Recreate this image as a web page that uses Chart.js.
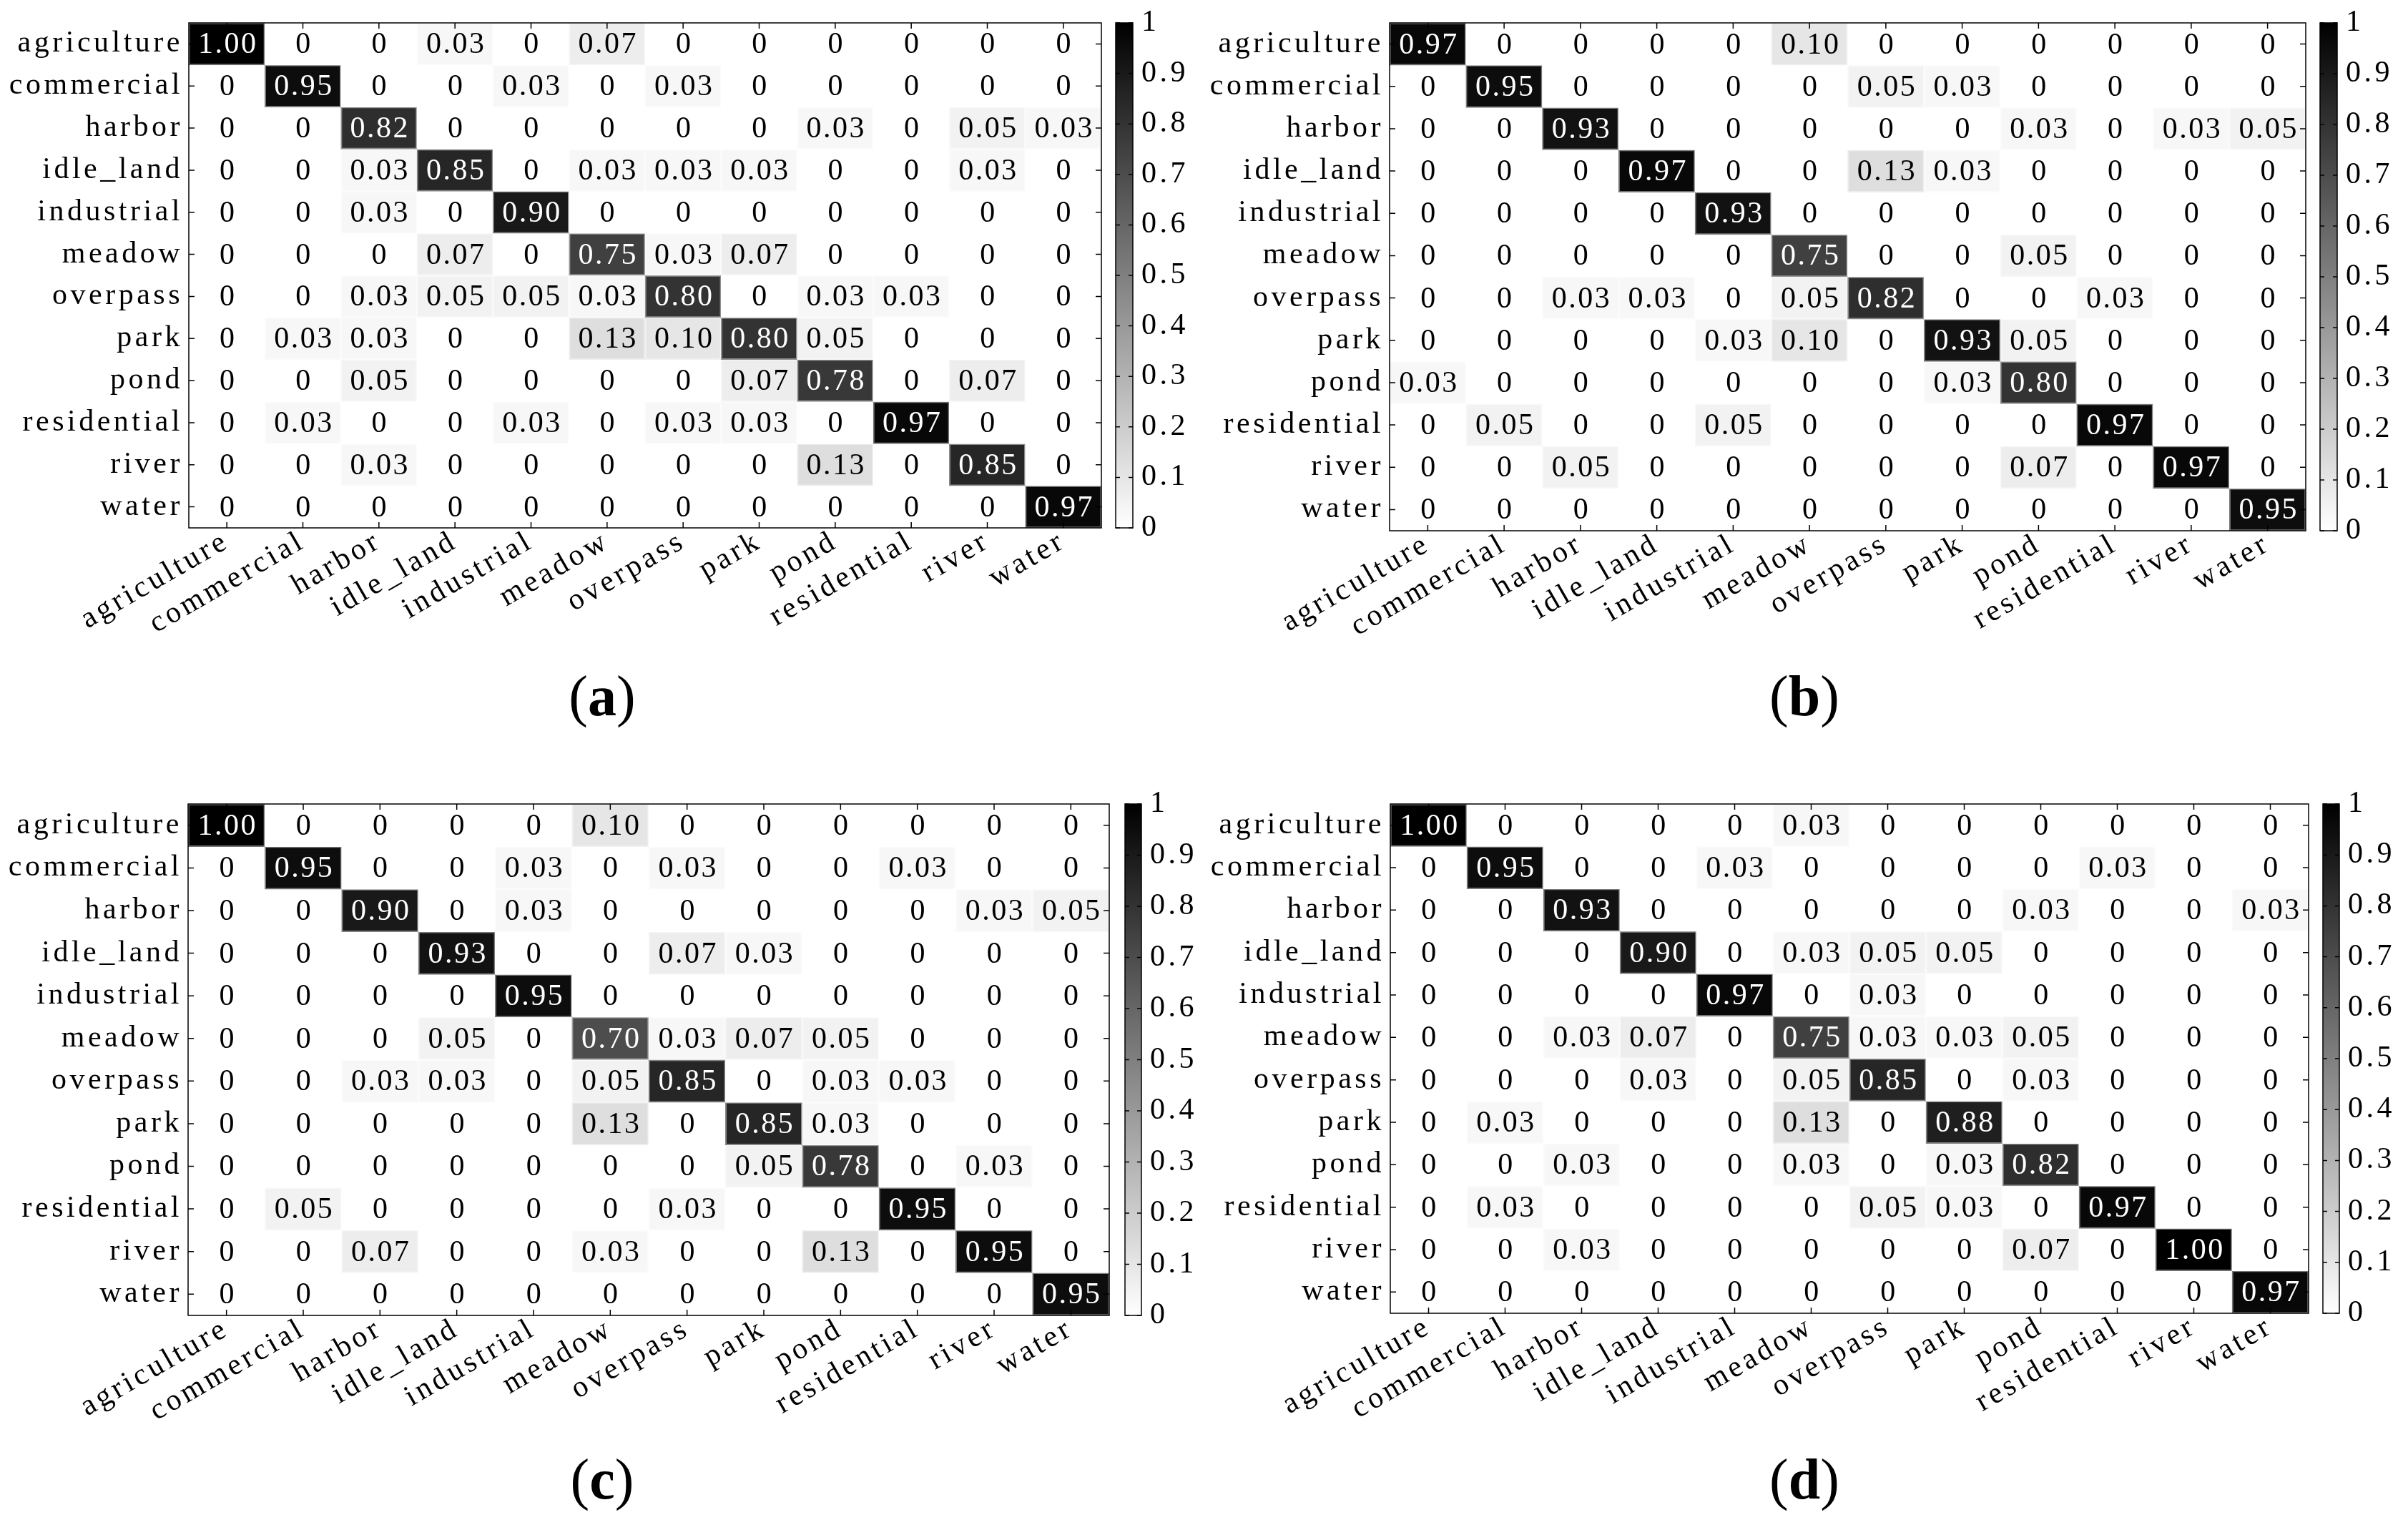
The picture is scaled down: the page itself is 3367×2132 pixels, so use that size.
<!DOCTYPE html>
<html>
<head>
<meta charset="utf-8">
<script src="https://cdn.jsdelivr.net/npm/chart.js@4.4.0/dist/chart.umd.min.js"></script>
<style>
body { margin: 0; background: #fff; width: 3367px; height: 2132px; position: relative; overflow: hidden; }
canvas { position: absolute; }
.cap { position: absolute; font-family: 'Liberation Serif', serif; font-size: 80px; line-height: 1; transform: translate(-50%, -50%); }
</style>
</head>
<body>
<canvas id="ma" width="1600" height="1000" style="left:0px;top:0px"></canvas>
<canvas id="mb" width="1600" height="1000" style="left:1680px;top:0px"></canvas>
<canvas id="mc" width="1600" height="1000" style="left:0px;top:1090px"></canvas>
<canvas id="md" width="1600" height="1000" style="left:1680px;top:1090px"></canvas>
<canvas id="ca" width="140" height="1000" style="left:1550px;top:0px"></canvas>
<canvas id="cb" width="140" height="1000" style="left:3234px;top:0px"></canvas>
<canvas id="cc" width="140" height="1000" style="left:1563px;top:1090px"></canvas>
<canvas id="cd" width="140" height="1000" style="left:3238px;top:1090px"></canvas>
<div class="cap" style="left:842px;top:973px">(<b>a</b>)</div>
<div class="cap" style="left:2523px;top:973px">(<b>b</b>)</div>
<div class="cap" style="left:842px;top:2068px">(<b>c</b>)</div>
<div class="cap" style="left:2523px;top:2068px">(<b>d</b>)</div>
<script>
// class names (rows = true, columns = predicted)
const classNames = ['agriculture', 'commercial', 'harbor', 'idle_land', 'industrial', 'meadow',
    'overpass', 'park', 'pond', 'residential', 'river', 'water'];
const rowIdx = [0, 1, 2, 3, 4, 5, 6, 7, 8, 9, 10, 11];

const cmA = [
    [1.00, 0, 0, 0.03, 0, 0.07, 0, 0, 0, 0, 0, 0],
    [0, 0.95, 0, 0, 0.03, 0, 0.03, 0, 0, 0, 0, 0],
    [0, 0, 0.82, 0, 0, 0, 0, 0, 0.03, 0, 0.05, 0.03],
    [0, 0, 0.03, 0.85, 0, 0.03, 0.03, 0.03, 0, 0, 0.03, 0],
    [0, 0, 0.03, 0, 0.90, 0, 0, 0, 0, 0, 0, 0],
    [0, 0, 0, 0.07, 0, 0.75, 0.03, 0.07, 0, 0, 0, 0],
    [0, 0, 0.03, 0.05, 0.05, 0.03, 0.80, 0, 0.03, 0.03, 0, 0],
    [0, 0.03, 0.03, 0, 0, 0.13, 0.10, 0.80, 0.05, 0, 0, 0],
    [0, 0, 0.05, 0, 0, 0, 0, 0.07, 0.78, 0, 0.07, 0],
    [0, 0.03, 0, 0, 0.03, 0, 0.03, 0.03, 0, 0.97, 0, 0],
    [0, 0, 0.03, 0, 0, 0, 0, 0, 0.13, 0, 0.85, 0],
    [0, 0, 0, 0, 0, 0, 0, 0, 0, 0, 0, 0.97]
];
const cmB = [
    [0.97, 0, 0, 0, 0, 0.10, 0, 0, 0, 0, 0, 0],
    [0, 0.95, 0, 0, 0, 0, 0.05, 0.03, 0, 0, 0, 0],
    [0, 0, 0.93, 0, 0, 0, 0, 0, 0.03, 0, 0.03, 0.05],
    [0, 0, 0, 0.97, 0, 0, 0.13, 0.03, 0, 0, 0, 0],
    [0, 0, 0, 0, 0.93, 0, 0, 0, 0, 0, 0, 0],
    [0, 0, 0, 0, 0, 0.75, 0, 0, 0.05, 0, 0, 0],
    [0, 0, 0.03, 0.03, 0, 0.05, 0.82, 0, 0, 0.03, 0, 0],
    [0, 0, 0, 0, 0.03, 0.10, 0, 0.93, 0.05, 0, 0, 0],
    [0.03, 0, 0, 0, 0, 0, 0, 0.03, 0.80, 0, 0, 0],
    [0, 0.05, 0, 0, 0.05, 0, 0, 0, 0, 0.97, 0, 0],
    [0, 0, 0.05, 0, 0, 0, 0, 0, 0.07, 0, 0.97, 0],
    [0, 0, 0, 0, 0, 0, 0, 0, 0, 0, 0, 0.95]
];
const cmC = [
    [1.00, 0, 0, 0, 0, 0.10, 0, 0, 0, 0, 0, 0],
    [0, 0.95, 0, 0, 0.03, 0, 0.03, 0, 0, 0.03, 0, 0],
    [0, 0, 0.90, 0, 0.03, 0, 0, 0, 0, 0, 0.03, 0.05],
    [0, 0, 0, 0.93, 0, 0, 0.07, 0.03, 0, 0, 0, 0],
    [0, 0, 0, 0, 0.95, 0, 0, 0, 0, 0, 0, 0],
    [0, 0, 0, 0.05, 0, 0.70, 0.03, 0.07, 0.05, 0, 0, 0],
    [0, 0, 0.03, 0.03, 0, 0.05, 0.85, 0, 0.03, 0.03, 0, 0],
    [0, 0, 0, 0, 0, 0.13, 0, 0.85, 0.03, 0, 0, 0],
    [0, 0, 0, 0, 0, 0, 0, 0.05, 0.78, 0, 0.03, 0],
    [0, 0.05, 0, 0, 0, 0, 0.03, 0, 0, 0.95, 0, 0],
    [0, 0, 0.07, 0, 0, 0.03, 0, 0, 0.13, 0, 0.95, 0],
    [0, 0, 0, 0, 0, 0, 0, 0, 0, 0, 0, 0.95]
];
const cmD = [
    [1.00, 0, 0, 0, 0, 0.03, 0, 0, 0, 0, 0, 0],
    [0, 0.95, 0, 0, 0.03, 0, 0, 0, 0, 0.03, 0, 0],
    [0, 0, 0.93, 0, 0, 0, 0, 0, 0.03, 0, 0, 0.03],
    [0, 0, 0, 0.90, 0, 0.03, 0.05, 0.05, 0, 0, 0, 0],
    [0, 0, 0, 0, 0.97, 0, 0.03, 0, 0, 0, 0, 0],
    [0, 0, 0.03, 0.07, 0, 0.75, 0.03, 0.03, 0.05, 0, 0, 0],
    [0, 0, 0, 0.03, 0, 0.05, 0.85, 0, 0.03, 0, 0, 0],
    [0, 0.03, 0, 0, 0, 0.13, 0, 0.88, 0, 0, 0, 0],
    [0, 0, 0.03, 0, 0, 0.03, 0, 0.03, 0.82, 0, 0, 0],
    [0, 0.03, 0, 0, 0, 0, 0.05, 0.03, 0, 0.97, 0, 0],
    [0, 0, 0.03, 0, 0, 0, 0, 0, 0.07, 0, 1.00, 0],
    [0, 0, 0, 0, 0, 0, 0, 0, 0, 0, 0, 0.97]
];

// colorbar
const cbRange = [0, 1];
const cbTicks = [0, 0.1, 0.2, 0.3, 0.4, 0.5, 0.6, 0.7, 0.8, 0.9, 1];

Chart.defaults.font.family = "'Liberation Serif', serif";
Chart.defaults.font.size = 42;
Chart.defaults.color = '#000';
Chart.defaults.animation = false;
Chart.defaults.plugins.legend.display = false;
Chart.defaults.plugins.tooltip.enabled = false;

function gray(v) {
    let g = Math.round(255 * (1 - v));
    return 'rgb(' + g + ',' + g + ',' + g + ')';
}
function edgeGray(v) {
    let g = Math.round(255 * (1 - v * 0.55));
    return 'rgb(' + g + ',' + g + ',' + g + ')';
}

// wider glyph spacing, like the original half-width font
const spacing = {
    id: 'spacing',
    beforeDraw(chart) { chart.ctx.letterSpacing = '4.5px'; }
};

// box + inward ticks (matlab style)
const frame = {
    id: 'frame',
    afterDatasetsDraw(chart, args, opts) {
        const ctx = chart.ctx, a = chart.chartArea;
        const t = opts.len;
        ctx.save();
        ctx.strokeStyle = '#000';
        ctx.lineWidth = 1.5;
        ctx.strokeRect(a.left, a.top, a.width, a.height);
        ctx.beginPath();
        if (opts.xTicks) {
            const xs = chart.scales.x;
            xs.ticks.forEach((tk, i) => {
                let x = xs.getPixelForTick(i);
                ctx.moveTo(x, a.top); ctx.lineTo(x, a.top + t);
                ctx.moveTo(x, a.bottom); ctx.lineTo(x, a.bottom - t);
            });
        }
        const ys = chart.scales.y;
        ys.ticks.forEach((tk, i) => {
            let y = ys.getPixelForTick(i);
            ctx.moveTo(a.left, y); ctx.lineTo(a.left + t, y);
            ctx.moveTo(a.right, y); ctx.lineTo(a.right - t, y);
        });
        ctx.stroke();
        ctx.restore();
    }
};

// numbers inside the cells
const cellText = {
    id: 'cellText',
    afterDatasetsDraw(chart) {
        const ctx = chart.ctx;
        ctx.save();
        ctx.letterSpacing = '2.5px';
        ctx.font = "42px 'Liberation Serif', serif";
        ctx.textAlign = 'center';
        ctx.textBaseline = 'middle';
        chart.data.datasets.forEach((ds, i) => {
            chart.getDatasetMeta(i).data.forEach((bar, j) => {
                let v = ds.values[j];
                ctx.fillStyle = v > 0.5 ? '#fff' : '#000';
                ctx.fillText(v === 0 ? '0' : v.toFixed(2), bar.x + 1.5, (bar.y + bar.base) / 2 + 2);
            });
        });
        ctx.restore();
    }
};

function matrixChart(id, cm, g) {
    // g: canvas origin (x, y, w, h) and plot box (left, top, right, bottom), page coords
    let datasets = cm.map((row, r) => ({
        data: row.map(() => [r - 0.5, r + 0.5]),
        values: row,
        backgroundColor: row.map(gray),
        borderColor: row.map(edgeGray),
        borderWidth: row.map(v => v > 0 ? 2 : 0),
        borderSkipped: false,
        barPercentage: 1,
        categoryPercentage: 1,
        grouped: false
    }));
    return new Chart(document.getElementById(id), {
        type: 'bar',
        data: { labels: classNames, datasets: datasets },
        options: {
            responsive: false,
            layout: { padding: { left: 0, top: g.top - g.y, right: g.x + g.w - g.right, bottom: 0 } },
            scales: {
                x: {
                    type: 'category',
                    offset: true,
                    grid: { display: false },
                    border: { display: false },
                    ticks: { minRotation: 30, maxRotation: 30, autoSkip: false, padding: -14 },
                    afterFit: s => { s.height = g.y + g.h - g.bottom; }
                },
                y: {
                    type: 'linear',
                    min: -0.5,
                    max: 11.5,
                    reverse: true,
                    grid: { display: false },
                    border: { display: false },
                    afterBuildTicks: s => { s.ticks = rowIdx.map(v => ({ value: v })); },
                    ticks: { callback: v => classNames[v], padding: 0 },
                    afterFit: s => { s.width = g.left - g.x; }
                }
            },
            plugins: { frame: { len: 8, xTicks: true } }
        },
        plugins: [spacing, frame, cellText]
    });
}

function colorbarChart(id, g) {
    return new Chart(document.getElementById(id), {
        type: 'bar',
        data: {
            labels: [''],
            datasets: [{
                data: [cbRange],
                backgroundColor: ctx => {
                    const a = ctx.chart.chartArea;
                    if (!a) return '#888';
                    const grad = ctx.chart.ctx.createLinearGradient(0, a.bottom, 0, a.top);
                    grad.addColorStop(0, gray(cbRange[0]));
                    grad.addColorStop(1, gray(cbRange[1]));
                    return grad;
                },
                barPercentage: 1,
                categoryPercentage: 1
            }]
        },
        options: {
            responsive: false,
            layout: { padding: { left: g.left - g.x, top: g.top - g.y, right: 0, bottom: g.y + g.h - g.bottom } },
            scales: {
                x: { display: false },
                y: {
                    position: 'right',
                    min: cbRange[0],
                    max: cbRange[1],
                    grid: { display: false },
                    border: { display: false },
                    afterBuildTicks: s => { s.ticks = cbTicks.map(v => ({ value: v })); },
                    ticks: { callback: v => String(v), padding: 4 },
                    afterFit: s => { s.width = g.x + g.w - g.right; }
                }
            },
            plugins: { frame: { len: 6, xTicks: false } }
        },
        plugins: [spacing, frame]
    });
}

matrixChart('ma', cmA, { x: 0, y: 0, w: 1600, h: 1000, left: 264, top: 32, right: 1540, bottom: 738 });
matrixChart('mb', cmB, { x: 1680, y: 0, w: 1600, h: 1000, left: 1943, top: 32, right: 3224, bottom: 742 });
matrixChart('mc', cmC, { x: 0, y: 1090, w: 1600, h: 1000, left: 263, top: 1124, right: 1551, bottom: 1839 });
matrixChart('md', cmD, { x: 1680, y: 1090, w: 1600, h: 1000, left: 1944, top: 1124, right: 3228, bottom: 1836 });

colorbarChart('ca', { x: 1550, y: 0, w: 140, h: 1000, left: 1560, top: 32, right: 1584, bottom: 738 });
colorbarChart('cb', { x: 3234, y: 0, w: 140, h: 1000, left: 3244, top: 32, right: 3268, bottom: 742 });
colorbarChart('cc', { x: 1563, y: 1090, w: 140, h: 1000, left: 1573, top: 1124, right: 1596, bottom: 1839 });
colorbarChart('cd', { x: 3238, y: 1090, w: 140, h: 1000, left: 3248, top: 1124, right: 3271, bottom: 1836 });
</script>
</body>
</html>
